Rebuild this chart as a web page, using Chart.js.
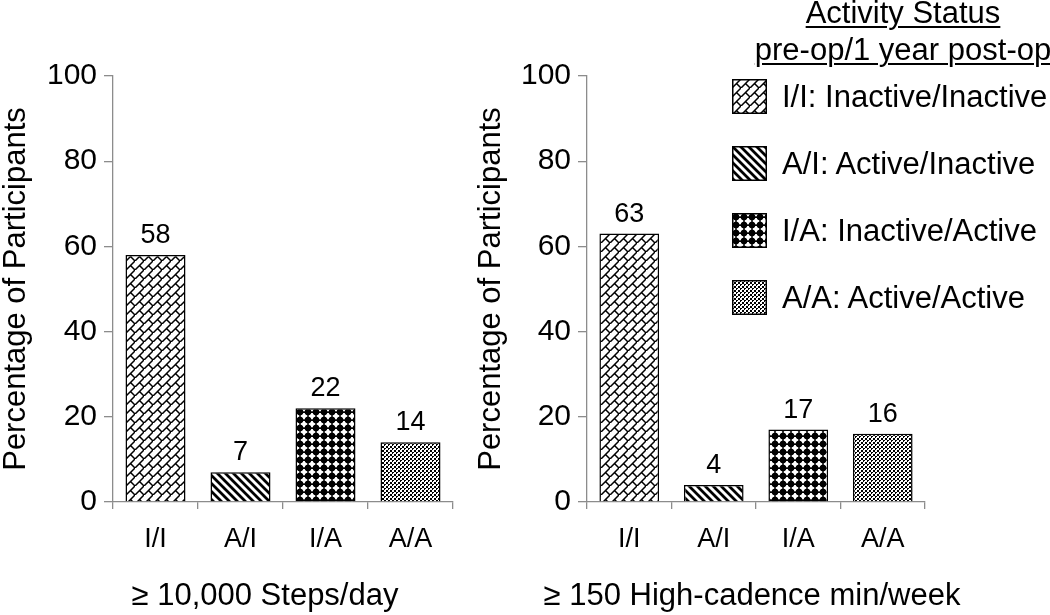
<!DOCTYPE html>
<html><head><meta charset="utf-8">
<script src="https://cdn.jsdelivr.net/npm/chart.js@4.4.1/dist/chart.umd.min.js"></script>
<style>
html,body{margin:0;padding:0;background:#fff;}
#wrap{position:relative;width:1050px;height:615px;overflow:hidden;font-family:"Liberation Sans",Arial,sans-serif;color:#000;}
#c1{position:absolute;left:0;top:0;}
#c2{position:absolute;left:475px;top:0;}
.lt{position:absolute;left:903px;transform:translateX(-50%);white-space:nowrap;font-size:31px;line-height:31px;text-decoration:underline;text-decoration-thickness:2px;text-underline-offset:3px;}
.li{position:absolute;left:732px;height:35px;display:flex;align-items:center;white-space:nowrap;font-size:31px;line-height:35px;}
.li canvas{display:block;margin-right:15px;}
</style></head>
<body>
<div id="wrap">
<canvas id="c1" width="470" height="615"></canvas>
<canvas id="c2" width="575" height="615"></canvas>
<div id="legend"></div>
</div>
<script>
const FONT = '"Liberation Sans", Arial, sans-serif';
const categories = ['I/I', 'A/I', 'I/A', 'A/A'];
const stepsValues = [58, 7, 22, 14];
const cadenceValues = [63, 4, 17, 16];
const yMin = 0, yMax = 100, yStep = 20;
const yTitle = 'Percentage of Participants';
const leftTitle = '\u2265 10,000 Steps/day';
const rightTitle = '\u2265 150 High-cadence min/week';
const legendTitle = ['Activity Status', 'pre-op/1 year post-op'];
const legendLabels = ['I/I: Inactive/Inactive', 'A/I: Active/Inactive', 'I/A: Inactive/Active', 'A/A: Active/Active'];

function tile(size, draw){
  const c = document.createElement('canvas'); c.width = size; c.height = size;
  const x = c.getContext('2d'); x.fillStyle = '#fff'; x.fillRect(0,0,size,size);
  x.fillStyle = '#000'; x.strokeStyle = '#000'; draw(x, size); return c;
}
const tiles = [
  tile(9, (x,s)=>{ x.lineWidth = 1.5; x.beginPath();
    x.moveTo(-1, s+1); x.lineTo(s+1, -1);
    x.moveTo(s/2, s/2); x.lineTo(s+1, s+1);
    x.stroke(); }),
  tile(8, (x,s)=>{ x.lineWidth = 2.8; x.beginPath();
    for (const k of [-s, 0, s]) { x.moveTo(k-2, -2); x.lineTo(k+s+2, s+2); }
    x.stroke(); }),
  tile(8, (x,s)=>{ const r = 4.3, c = s/2; x.beginPath();
    x.moveTo(c, c-r); x.lineTo(c+r, c); x.lineTo(c, c+r); x.lineTo(c-r, c); x.closePath(); x.fill();
    x.beginPath(); x.arc(c, c, 3.2, 0, Math.PI*2); x.fill(); }),
  tile(4, (x,s)=>{ x.fillRect(0,0,2,2); x.fillRect(2,2,2,2); x.fillStyle='#fff'; x.fillRect(1,1,1,1); })
];

const valueLabels = {
  id: 'valueLabels',
  afterDatasetsDraw(chart){
    const ctx = chart.ctx, meta = chart.getDatasetMeta(0), data = chart.data.datasets[0].data;
    ctx.save(); ctx.font = '27px ' + FONT; ctx.fillStyle = '#000';
    ctx.textAlign = 'center'; ctx.textBaseline = 'alphabetic';
    meta.data.forEach((bar, i) => ctx.fillText(String(data[i]), bar.x, bar.y - 12));
    ctx.restore();
  }
};
const axisCaption = {
  id: 'axisCaption',
  afterDraw(chart, args, opts){
    const ctx = chart.ctx, sx = chart.scales.x;
    ctx.save(); ctx.font = '31px ' + FONT; ctx.fillStyle = '#000';
    ctx.textAlign = 'center'; ctx.textBaseline = 'middle';
    ctx.fillText(opts.text, (sx.left + sx.right) / 2 + opts.shift, sx.bottom - 19);
    ctx.restore();
  }
};

function makeChart(id, values, xTitle, shift, yWidth, padRight){
  const el = document.getElementById(id);
  const ctx = el.getContext('2d');
  return new Chart(el, {
    type: 'bar',
    data: { labels: categories, datasets: [{ data: values,
      backgroundColor: tiles.map(t => ctx.createPattern(t, 'repeat')),
      borderColor: '#000', borderWidth: 1.5, barPercentage: 0.706, categoryPercentage: 1 }] },
    options: {
      responsive: false, animation: false, devicePixelRatio: 1,
      layout: { padding: { top: 76, right: padRight, bottom: 0, left: 0 } },
      plugins: { legend: { display: false }, tooltip: { enabled: false }, axisCaption: { text: xTitle, shift: shift } },
      scales: {
        x: {
          grid: { display: true, drawOnChartArea: false, drawTicks: true, tickLength: 7, color: '#8c8c8c', lineWidth: 1.3, offset: true },
          border: { display: true, color: '#8c8c8c', width: 1.3 },
          ticks: { color: '#000', font: { family: FONT, size: 27 }, padding: 14 },
          afterFit(s){ s.height = 113; }
        },
        y: {
          min: yMin, max: yMax,
          ticks: { stepSize: yStep, color: '#000', font: { family: FONT, size: 30 }, padding: 7 },
          grid: { drawOnChartArea: false, drawTicks: true, tickLength: 9, color: '#8c8c8c', lineWidth: 1.3 },
          border: { display: true, color: '#8c8c8c', width: 1.3 },
          title: { display: true, text: yTitle, color: '#000', font: { family: FONT, size: 31, lineHeight: 1 }, padding: { top: 1, bottom: 0 } },
          afterFit(s){ s.width = yWidth; }
        }
      }
    },
    plugins: [valueLabels, axisCaption]
  });
}
makeChart('c1', stepsValues, leftTitle, -18, 113, 17);
makeChart('c2', cadenceValues, rightTitle, -4, 112, 125);

// legend
const lg = document.getElementById('legend');
const titleTops = [-3, 34];
legendTitle.forEach((t, i) => {
  const d = document.createElement('div'); d.className = 'lt'; d.style.top = titleTops[i] + 'px'; d.textContent = t; lg.appendChild(d);
});
const itemTops = [79, 146, 213, 280];
legendLabels.forEach((t, i) => {
  const d = document.createElement('div'); d.className = 'li'; d.style.top = itemTops[i] + 'px';
  const c = document.createElement('canvas'); c.width = 35; c.height = 35;
  const x = c.getContext('2d'); x.fillStyle = x.createPattern(tiles[i], 'repeat'); x.fillRect(0,0,35,35);
  x.strokeStyle = '#000'; x.lineWidth = 1.5; x.strokeRect(0.75,0.75,33.5,33.5);
  d.appendChild(c); const s = document.createElement('span'); s.textContent = t; d.appendChild(s);
  lg.appendChild(d);
});
</script>
</body></html>
